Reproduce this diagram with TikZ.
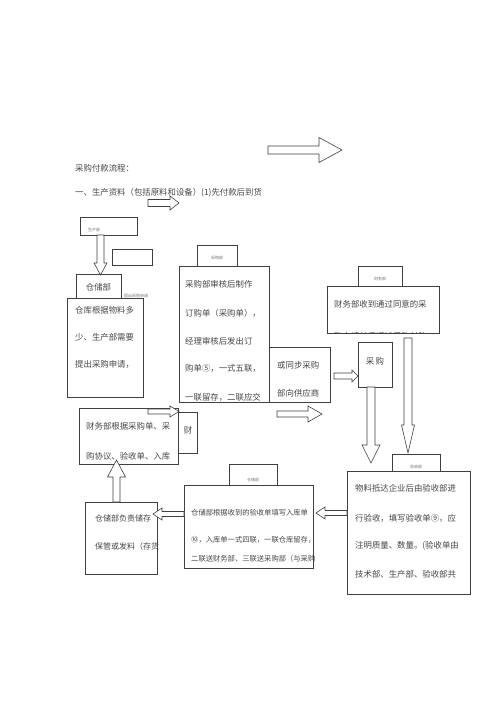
\documentclass[tikz,border=0pt]{standalone}
\usepackage{fontspec}
\newfontfamily\cjk{Noto Sans CJK SC}
\usetikzlibrary{fit}
\newcommand\blkh[6]{\draw[barrow] (#1,{#4-#5}) -- (#2,{#4-#5}) -- (#2,{#4-#6}) -- (#3,#4) -- (#2,{#4+#6}) -- (#2,{#4+#5}) -- (#1,{#4+#5}) -- cycle;}
\newcommand\blkv[6]{\draw[barrow] ({#1-#5},#2) -- ({#1-#5},#3) -- ({#1-#6},#3) -- (#1,#4) -- ({#1+#6},#3) -- ({#1+#5},#3) -- ({#1+#5},#2) -- cycle;}
\begin{document}
\begin{tikzpicture}[x=1pt,y=-1pt,
  box/.style={draw=black!75,line width=0.6pt,fill=white,inner sep=0pt},
  barrow/.style={draw=black!75,line width=0.6pt,fill=white,line join=miter},
  txt/.style={anchor=west,inner sep=0pt,text=black!72,font=\cjk\fontsize{8.4}{10}\selectfont},
  small/.style={anchor=west,inner sep=0pt,text=black!72,font=\cjk\fontsize{7.3}{9}\selectfont},
  tiny/.style={inner sep=0pt,text=black!55,font=\cjk\fontsize{4}{5}\selectfont}]
\fill[white] (0,0) rectangle (500,707);
\useasboundingbox (0,0) rectangle (500,707);

% heading texts
\node[txt] (title) at (75,168) {采购付款流程：};
\node[txt] (sub) at (75,193) {一、生产资料（包括原料和设备）(1)先付款后到货};

% top-left boxes
\node[box,fit={(80,217)(137,235)}] (b1) {};
\node[tiny,anchor=west] (b1t) at (88,230) {生产部};
\node[box,fit={(112,249)(152,265)}] (b2) {};
\node[box,fit={(76,274)(121,298)}] (b3) {};
\node[txt,anchor=center] (b3t) at (98.5,287) {仓储部};
\node[tiny,anchor=west] (b3n) at (124,296) {提出采购申请};
\node[box,fit={(67,298)(143,397)}] (b4) {};
\node[txt] at (75,310) {仓库根据物料多};
\node[txt] at (75,337) {少、生产部需要};
\node[txt] at (75,364) {提出采购申请，};

% middle purchase boxes
\node[box,fit={(197,245)(237,266)}] (b5) {};
\node[tiny] (b5t) at (217,258) {采购部};
\node[box,fit={(179,266)(269,402)}] (b6) {};
\begin{scope}
\clip (179,266) rectangle (269,401.5);
\node[txt] at (185,284) {采购部审核后制作};
\node[txt] at (185,313) {订购单（采购单），};
\node[txt] at (185,341) {经理审核后发出订};
\node[txt] at (185,368) {购单⑤，一式五联，};
\node[txt] at (185,397) {一联留存，二联应交};
\end{scope}
\node[box,fit={(269,347)(330,402)}] (b7) {};
\node[txt] at (277,365) {或同步采购};
\node[txt] at (277,393) {部向供应商};

% right finance
\node[box,fit={(358,266)(402,286)}] (b8) {};
\node[tiny] (b8t) at (380,279) {财务部};
\node[box,fit={(327,286)(439,333)}] (b9) {};
\node[txt] at (334,304) {财务部收到通过同意的采};
\begin{scope}
\clip (327,286) rectangle (439,332.5);
\node[txt] at (334,336) {购申请单后通知采购付款};
\end{scope}
\node[box,fit={(358,342)(392,387)}] (b10) {};
\node[txt,anchor=center] (b10t) at (375,361) {采\,购};

% bottom right
\node[box,fit={(392,454)(440,471)}] (b11) {};
\node[tiny] (b11t) at (416,467) {验收部};
\node[box,fit={(347,471)(470,594)}] (b12) {};
\node[txt] at (355,488) {物料抵达企业后由验收部进};
\node[txt] at (355,518) {行验收，填写验收单⑨，应};
\node[txt] at (355,546) {注明质量、数量。(验收单由};
\node[txt] at (355,574) {技术部、生产部、验收部共};

% bottom middle
\node[box,fit={(229,464)(277,485)}] (b13) {};
\node[tiny] (b13t) at (253,480) {仓储部};
\node[box,fit={(184,485)(313,568)}] (b14) {};
\node[small] at (191,513) {仓储部根据收到的验收单填写入库单};
\node[small] at (191,540) {⑩，入库单一式四联，一联仓库留存，};
\node[small] at (191,559) {二联送财务部、三联送采购部（与采购};

% left finance
\node[box,fit={(79,408)(178,464)}] (b15) {};
\node[txt] at (86,426) {财务部根据采购单、采};
\node[txt] at (86,456) {购协议、验收单、入库};
\node[box,fit={(178,412)(197,453)}] (b16) {};
\node[txt,anchor=center] (b16t) at (188,430) {财};

% bottom left
\node[box,fit={(85,502)(157,574)}] (b17) {};
\node[small,font=\cjk\fontsize{8}{9}\selectfont] at (95,518) {仓储部负责储存};
\node[small,font=\cjk\fontsize{8}{9}\selectfont] at (95,546) {保管或发料（存货};

% block arrows
\blkh{268}{319}{342}{150}{4}{12.5}
\blkh{148}{170}{179}{203}{3.5}{7}
\blkv{100.5}{235}{263}{275}{3.5}{6.5}
\blkh{277}{308}{322}{414}{3}{8}
\blkh{334}{352}{358}{376}{3}{6}
\blkv{371}{387}{445}{463}{4}{9}
\blkv{408}{338}{425}{453}{4}{6.5}
\blkh{347}{325}{316}{513}{2.5}{6}
\blkh{184}{162}{153}{514}{2.5}{6}
\blkv{116.5}{502}{477}{460}{3.5}{9}
\blkh{148}{170}{179}{411.5}{2.5}{5.5}
\end{tikzpicture}
\end{document}
